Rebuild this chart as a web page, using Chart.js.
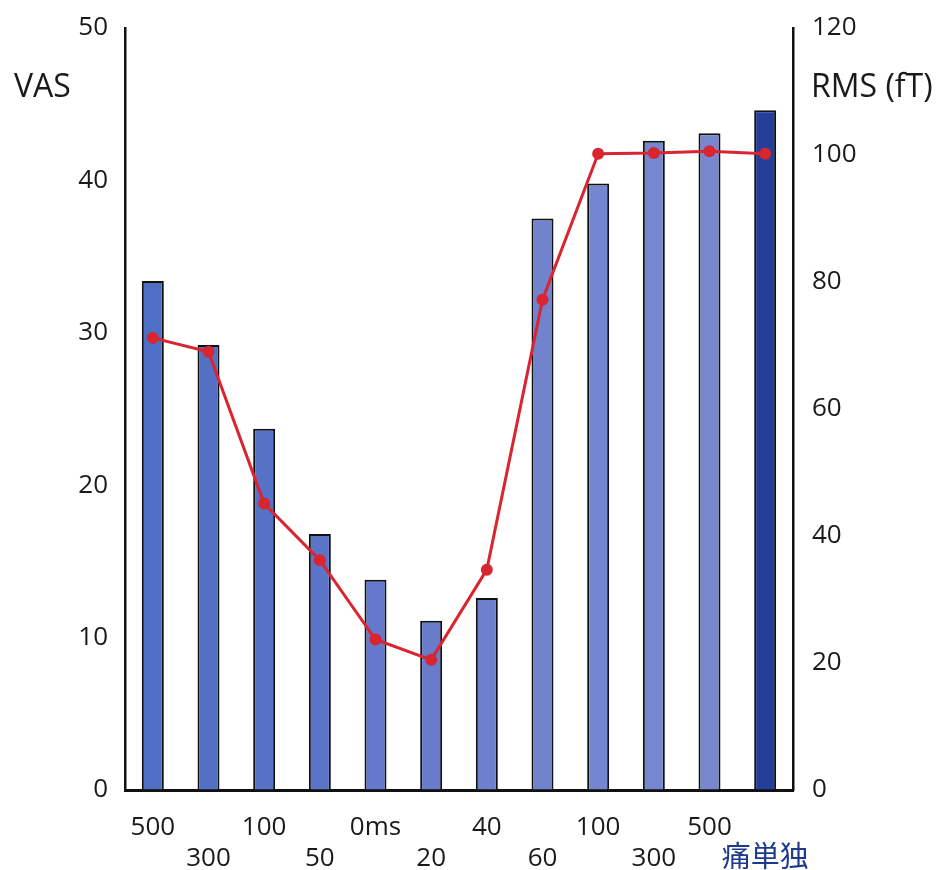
<!DOCTYPE html>
<html>
<head>
<meta charset="utf-8">
<script src="https://cdn.jsdelivr.net/npm/chart.js@4/dist/chart.umd.min.js"></script>
<style>
  html, body { margin: 0; padding: 0; background: #fff; }
  #wrap { width: 945px; height: 870px; }
</style>
</head>
<body>
<div id="wrap"><canvas id="myChart" width="945" height="870"></canvas></div>
<script>
// categories: interval labels, upper row and lower row alternate
const categories = ["500", "300", "100", "50", "0ms", "20", "40", "60", "100", "300", "500", "痛単独"];
// VAS (bars, left axis)
const vasValues = [33.4, 29.2, 23.7, 16.8, 13.8, 11.1, 12.6, 37.5, 39.8, 42.6, 43.1, 44.6];
// RMS fT (line, right axis)
const rmsValues = [71.2, 69.0, 45.1, 36.2, 23.7, 20.5, 34.7, 77.2, 100.2, 100.3, 100.6, 100.2];
const vasTicks = [0, 10, 20, 30, 40, 50];
const rmsTicks = [0, 20, 40, 60, 80, 100, 120];

const barColors = [
  "#4f6ec4", "#5370c4", "#5672c6", "#5c74c8", "#6478cc", "#6a7bcc",
  "#6d7fcd", "#7283ce", "#7585cf", "#7787cf", "#7888d0", "#233f99"
];

// two-row labels: even index on the first line, odd index on the second
const xLabels = categories.map((c, i) => (i % 2 === 0 ? [c, ""] : ["", c]));

const font = "'Open Sans', 'Noto Sans CJK JP', sans-serif";
const last = categories.length - 1;

const axisTitles = {
  id: "axisTitles",
  afterDraw(chart) {
    const ctx = chart.ctx;
    ctx.save();
    ctx.fillStyle = "#1a1a1a";
    ctx.font = "32px " + font;
    ctx.textBaseline = "middle";
    ctx.textAlign = "left";
    ctx.fillText("VAS", 14, 88);
    ctx.fillText("RMS (fT)", 811, 88);
    ctx.restore();
  }
};

new Chart("myChart", {
  data: {
    labels: xLabels,
    datasets: [
      {
        type: "line",
        data: rmsValues,
        yAxisID: "y2",
        borderColor: "#d8252f",
        backgroundColor: "#d8252f",
        borderWidth: 3,
        pointRadius: 6,
        pointBorderWidth: 0,
        tension: 0,
        order: 0
      },
      {
        type: "bar",
        data: vasValues,
        yAxisID: "y",
        backgroundColor: barColors,
        borderColor: "#111",
        borderWidth: 2,
        barPercentage: 0.79,
        categoryPercentage: 0.5,
        order: 1
      }
    ]
  },
  options: {
    responsive: false,
    animation: false,
    layout: { padding: { top: 28, left: 0, right: 0, bottom: 0 } },
    plugins: {
      legend: { display: false },
      tooltip: { enabled: false }
    },
    scales: {
      x: {
        offset: true,
        grid: { display: false },
        border: { display: true, color: "#111", width: 3 },
        ticks: {
          color: (c) => (c.index === last ? "#1e3a8f" : "#1a1a1a"),
          font: (c) => (c.index === last
            ? { family: font, size: 29, lineHeight: 1.08 }
            : { family: font, size: 26, lineHeight: 1.2 }),
          padding: 14,
          maxRotation: 0,
          autoSkip: false
        },
        afterFit(s) { s.height = 80; }
      },
      y: {
        position: "left",
        min: 0,
        max: 50,
        afterBuildTicks(s) { s.ticks = vasTicks.map((v) => ({ value: v })); },
        grid: { drawOnChartArea: false, drawTicks: false },
        border: { display: true, color: "#111", width: 2.5 },
        ticks: {
          color: "#1a1a1a",
          font: { family: font, size: 26 },
          padding: 17
        },
        afterFit(s) { s.width = 125; s.paddingTop = 0; s.paddingBottom = 0; }
      },
      y2: {
        position: "right",
        min: 0,
        max: 120,
        afterBuildTicks(s) { s.ticks = rmsTicks.map((v) => ({ value: v })); },
        grid: { drawOnChartArea: false, drawTicks: false },
        border: { display: true, color: "#111", width: 2.5 },
        ticks: {
          color: "#1a1a1a",
          font: { family: font, size: 26 },
          padding: 19
        },
        afterFit(s) { s.width = 152; s.paddingTop = 0; s.paddingBottom = 0; }
      }
    }
  },
  plugins: [axisTitles]
});
</script>
</body>
</html>
